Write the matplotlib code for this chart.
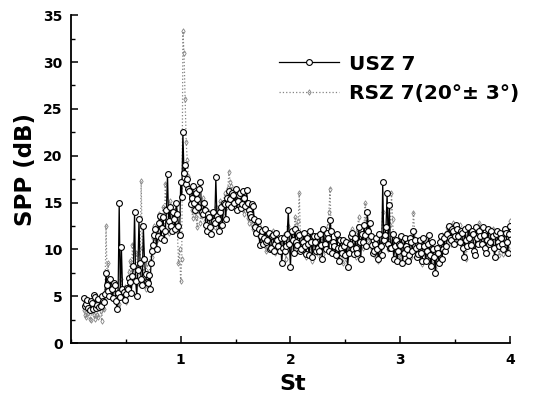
import numpy as np
import matplotlib
matplotlib.use("Agg")
import matplotlib.pyplot as plt
from matplotlib.ticker import MultipleLocator

plt.rcParams['font.family'] = ['DejaVu Sans']

# Strouhal number grids: even samples 0.12..4.00, odd samples 0.13..3.99
st_a = np.round(np.arange(0.12, 4.001, 0.02), 2)
st_b = np.round(np.arange(0.13, 3.991, 0.02), 2)

# unswirled case (USZ 7)
usz7_a = [4.8, 4.2, 3.8, 4.5, 3.6, 4.9, 4.1, 3.9, 5.0, 4.4,
          7.5, 5.6, 6.8, 4.8, 6.2, 3.6, 15.0, 10.3, 5.5, 5.2,
          5.8, 6.5, 7.2, 14.0, 5.0, 13.2, 6.8, 12.5, 7.4, 6.4,
          5.8, 9.8, 11.5, 10.0, 12.8, 11.2, 13.5, 12.0, 18.0, 14.5,
          12.0, 13.2, 15.0, 12.5, 17.2, 22.5, 19.0, 17.5, 16.2, 15.5,
          15.0, 16.0, 14.5, 17.2, 13.8, 14.2, 12.0, 13.5, 11.6, 13.0,
          17.7, 13.2, 14.0, 12.6, 14.8, 15.5, 16.2, 14.5, 15.8, 16.5,
          15.2, 16.0, 14.8, 15.5, 16.3, 14.2, 13.5, 14.6, 12.4, 13.0,
          10.5, 12.0, 11.2, 10.8, 11.8, 10.2, 11.5, 10.6, 11.0, 9.8,
          8.5, 11.2, 10.4, 14.2, 8.1, 11.0, 12.2, 10.5, 11.5, 10.0,
          11.8, 9.5, 10.6, 12.0, 9.2, 10.8, 11.4, 9.8, 10.5, 12.2,
          10.0, 11.2, 13.1, 9.6, 10.4, 11.6, 8.8, 10.2, 11.0, 9.4,
          8.1, 10.6, 11.8, 9.5, 10.2, 12.4, 9.0, 10.8, 11.5, 14.0,
          12.8, 10.5, 9.8, 11.2, 9.0, 10.4, 17.2, 11.5, 16.0, 14.7,
          10.2, 9.0, 11.0, 9.8, 10.5, 8.6, 11.2, 10.0, 9.4, 10.8,
          12.0, 10.2, 9.5, 11.0, 8.8, 10.4, 9.8, 11.5, 8.2, 10.0,
          7.5, 9.6, 10.8, 9.0, 11.2, 10.4, 12.5, 11.0, 12.0, 11.4,
          12.2, 10.8, 11.8, 9.2, 11.0, 12.4, 10.5, 11.6, 9.4, 11.2,
          12.0, 10.6, 11.5, 9.6, 12.2, 10.8, 11.4, 9.2, 12.0, 10.4,
          11.2, 10.0, 11.8, 9.6, 12.5]
usz7_b = [4.0, 4.6, 3.5, 4.3, 5.1, 3.7, 4.7, 4.0, 4.5, 5.2,
          6.2, 5.0, 5.8, 6.4, 4.5, 5.3, 4.9, 5.8, 4.6, 5.9,
          7.0, 5.4, 8.2, 6.6, 7.8, 8.5, 6.2, 9.0, 6.5, 7.3,
          8.6, 10.5, 12.2, 11.4, 13.6, 12.3, 11.0, 14.2, 13.0, 12.5,
          14.0, 12.2, 13.8, 11.5, 15.6, 18.2, 17.0, 16.4, 14.8, 16.8,
          14.2, 15.4, 16.5, 14.0, 15.0, 12.6, 13.8, 12.4, 14.0, 12.8,
          13.6, 12.0, 14.5, 15.0, 13.2, 14.8, 15.4, 16.0, 15.0, 14.2,
          15.8, 14.4, 16.2, 14.6, 15.0, 13.8, 14.8, 13.2, 11.8, 12.2,
          11.4, 10.6, 12.2, 11.0, 10.0, 11.4, 9.8, 11.8, 10.4, 11.2,
          10.2, 9.8, 11.6, 10.6, 12.0, 9.6, 10.8, 11.8, 9.8, 10.8,
          10.4, 11.2, 9.4, 10.8, 11.4, 9.8, 10.2, 11.6, 9.0, 10.6,
          11.8, 9.8, 12.0, 10.8, 9.4, 10.2, 11.0, 9.6, 10.4, 10.8,
          9.6, 11.4, 10.0, 11.2, 9.6, 10.8, 11.6, 12.6, 10.4, 12.0,
          11.4, 9.6, 10.6, 10.0, 11.6, 9.4, 11.0, 12.4, 10.6, 10.2,
          11.6, 10.4, 8.8, 10.6, 11.4, 9.6, 10.4, 8.8, 11.2, 9.8,
          11.0, 9.2, 10.4, 9.6, 11.2, 8.8, 10.6, 9.4, 10.8, 9.2,
          10.2, 8.6, 11.4, 10.0, 9.8, 11.6, 11.2, 12.2, 10.6, 12.6,
          11.4, 12.0, 10.2, 12.2, 10.4, 11.2, 12.0, 9.8, 12.4, 10.6,
          11.4, 12.4, 10.2, 11.0, 10.6, 12.0, 10.2, 11.6, 10.8, 11.8,
          10.6, 12.2, 10.8, 11.6]

# swirled case, 20 deg +- 3 deg (RSZ 7)
rsz7_a = [3.5, 2.8, 3.2, 2.5, 3.8, 2.6, 3.0, 4.2, 2.4, 3.6,
          12.5, 8.5, 5.2, 6.0, 4.5, 5.5, 4.2, 6.8, 5.0, 4.4,
          6.0, 8.8, 10.5, 7.2, 9.5, 6.5, 17.3, 8.0, 5.8, 7.5,
          8.5, 9.2, 12.5, 11.0, 13.8, 12.2, 14.5, 17.0, 13.0, 15.2,
          13.5, 12.0, 14.8, 8.5, 6.6, 33.3, 26.0, 19.5, 16.5, 14.2,
          15.0, 13.5, 14.2, 12.8, 15.5, 13.0, 12.2, 14.0, 11.8, 13.2,
          14.5, 12.8, 15.2, 13.8, 16.0, 15.0, 18.3, 16.8, 14.8, 15.6,
          16.2, 14.5, 15.8, 13.8, 14.6, 12.8, 14.0, 12.2, 13.2, 11.5,
          12.0, 10.8, 11.6, 9.8, 11.0, 10.4, 12.0, 9.6, 11.2, 10.5,
          10.0, 11.5, 9.0, 12.5, 10.2, 11.8, 13.5, 12.0, 16.0, 11.0,
          10.5, 9.2, 11.5, 10.0, 8.8, 11.2, 9.6, 10.8, 12.0, 9.5,
          11.0, 12.5, 16.5, 10.2, 9.8, 11.4, 9.0, 10.6, 8.5, 10.0,
          9.4, 11.0, 12.2, 10.0, 9.2, 13.5, 11.0, 10.2, 15.0, 12.0,
          11.5, 10.0, 9.4, 10.8, 8.8, 10.2, 14.0, 10.8, 12.5, 11.0,
          16.0, 10.5, 9.2, 10.0, 8.8, 10.6, 9.6, 11.2, 10.0, 9.2,
          13.9, 10.8, 9.8, 10.5, 8.4, 11.0, 9.2, 10.4, 8.6, 9.8,
          8.0, 10.2, 9.5, 11.5, 10.0, 11.8, 12.2, 10.6, 12.8, 11.2,
          11.8, 12.6, 10.4, 11.5, 9.0, 12.0, 10.8, 11.2, 9.8, 11.6,
          12.8, 11.0, 10.2, 11.8, 9.6, 11.4, 12.2, 10.0, 11.2, 9.4,
          10.8, 9.5, 11.5, 10.2, 13.0]
rsz7_b = [3.0, 3.6, 2.6, 3.4, 3.0, 4.0, 2.8, 3.4, 3.8, 4.4,
          7.0, 5.8, 4.8, 5.4, 6.2, 4.0, 5.6, 5.0, 6.0, 5.2,
          7.6, 6.8, 8.0, 9.6, 6.4, 8.2, 10.2, 7.0, 8.6, 6.6,
          10.0, 11.2, 10.4, 12.6, 11.4, 13.2, 12.4, 14.0, 11.8, 13.0,
          12.6, 14.2, 12.0, 10.0, 9.0, 31.0, 21.5, 17.8, 15.2, 13.4,
          14.0, 12.4, 15.0, 13.6, 14.4, 12.0, 13.4, 12.6, 13.8, 12.4,
          13.6, 14.2, 12.8, 15.0, 14.4, 16.6, 17.2, 15.4, 16.2, 14.6,
          15.0, 15.6, 14.2, 15.0, 13.4, 13.8, 12.6, 13.4, 12.0, 12.6,
          11.2, 12.0, 10.4, 11.4, 10.0, 11.0, 10.6, 10.2, 9.8, 11.0,
          10.8, 9.6, 11.0, 10.4, 11.6, 10.0, 12.6, 13.0, 11.6, 10.2,
          9.8, 11.0, 10.2, 9.4, 10.6, 10.0, 11.4, 9.2, 10.4, 11.2,
          10.4, 14.0, 12.0, 9.6, 10.8, 9.8, 10.2, 9.4, 9.8, 9.0,
          10.2, 9.8, 11.4, 10.6, 12.0, 11.8, 10.4, 12.6, 13.2, 11.0,
          10.6, 9.6, 10.2, 9.8, 9.4, 11.6, 12.4, 11.2, 10.0, 12.6,
          13.2, 9.8, 10.6, 9.4, 9.8, 10.0, 10.4, 9.4, 10.6, 11.6,
          12.0, 9.6, 10.6, 9.6, 9.8, 10.2, 8.8, 9.8, 9.4, 8.8,
          9.0, 9.6, 10.8, 10.4, 11.0, 12.4, 11.4, 11.8, 12.0, 10.8,
          12.2, 11.4, 11.0, 10.6, 10.4, 11.4, 11.6, 10.4, 10.8, 12.2,
          11.8, 11.6, 11.0, 10.6, 10.8, 12.0, 11.2, 10.8, 10.4, 10.2,
          10.2, 10.4, 11.0, 11.8]

st = np.concatenate([st_a, st_b])
order = np.argsort(st)
st = st[order]
usz7 = np.concatenate([usz7_a, usz7_b])[order]
rsz7 = np.concatenate([rsz7_a, rsz7_b])[order]

fig = plt.figure(figsize=(5.33, 3.99), dpi=100)
ax = fig.add_axes([0.133, 0.14, 0.824, 0.822])

ax.plot(st, rsz7, color='#858585', ls=':', lw=0.9, marker='d', ms=2.8,
        mfc='none', mec='#858585', mew=0.6, label='RSZ 7(20°± 3°)')
ax.plot(st, usz7, color='black', ls='-', lw=0.9, marker='o', ms=4.2,
        mfc='white', mec='black', mew=0.8, label='USZ 7')

ax.set_xlim(0, 4)
ax.set_ylim(0, 35)
ax.xaxis.set_major_locator(MultipleLocator(1))
ax.xaxis.set_minor_locator(MultipleLocator(0.5))
ax.yaxis.set_major_locator(MultipleLocator(5))
ax.yaxis.set_minor_locator(MultipleLocator(2.5))
ax.set_xticks([1, 2, 3, 4])
ax.tick_params(which='major', direction='in', length=5, width=1.1,
               labelsize=10)
ax.tick_params(axis='y', which='major', pad=6)
ax.tick_params(axis='x', which='major', pad=7)
ax.tick_params(which='minor', direction='in', length=3, width=1.0)
for lab in ax.get_xticklabels() + ax.get_yticklabels():
    lab.set_fontweight('bold')
ax.spines['top'].set_visible(False)
ax.spines['right'].set_visible(False)
ax.spines['left'].set_linewidth(1.3)
ax.spines['bottom'].set_linewidth(1.3)

ax.set_xlabel('St', fontsize=16, fontweight='bold')
ax.set_ylabel('SPP (dB)', fontsize=16.5, fontweight='bold')
ax.xaxis.set_label_coords(0.505, -0.095)
ax.yaxis.set_label_coords(-0.078, 0.53)

h, l = ax.get_legend_handles_labels()
ax.legend(h[::-1], l[::-1], loc='upper left', bbox_to_anchor=(0.474, 0.88),
          frameon=False, borderpad=0, borderaxespad=0, handlelength=3.0,
          handletextpad=0.45, labelspacing=0.5,
          prop={'size': 14.5, 'weight': 'bold'})

fig.savefig('out.png', dpi=100)
